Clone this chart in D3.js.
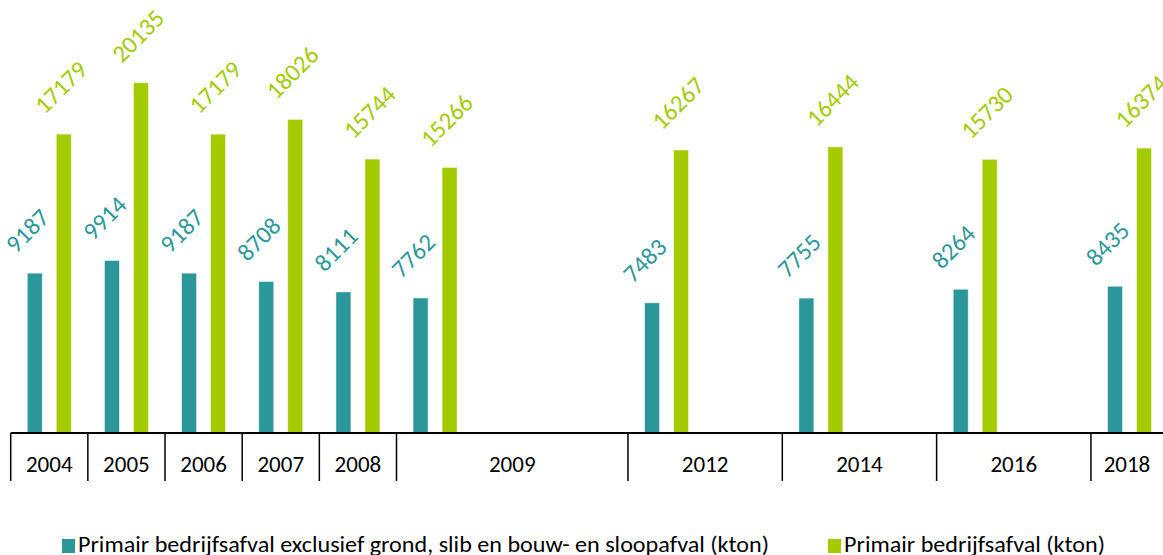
<!DOCTYPE html>
<meta charset="UTF-8">
<head>
<title>Primair bedrijfsafval</title>
<style>
body { margin: 0; background: #fff; }
svg { display: block; }
text { font-family: Carlito, Calibri, Lato, sans-serif; }
.lbl { font-size: 24.5px; }
.tick text { font-size: 23px; fill: #000; }
.legend text { font-size: 23px; fill: #000; }
</style>
</head>
<body>
<script src="https://cdn.jsdelivr.net/npm/d3@7"></script>
<script>

// data
var years = [2004, 2005, 2006, 2007, 2008, 2009, 2012, 2014, 2016, 2018];
var exclusief = [9187, 9914, 9187, 8708, 8111, 7762, 7483, 7755, 8264, 8435];
var totaal = [17179, 20135, 17179, 18026, 15744, 15266, 16267, 16444, 15730, 16374];
var seriesNames = ["Primair bedrijfsafval exclusief grond, slib en bouw- en sloopafval (kton)",
                   "Primair bedrijfsafval (kton)"];
var colors = ["#2c979a", "#a3cb00"];

var width = 1163, height = 555;
var baseY = 433;

var svg = d3.select("body").append("svg")
    .attr("width", width)
    .attr("height", height);

// one slot per year on a time-like axis
var allYears = d3.range(years[0], years[years.length - 1] + 1);
var x = d3.scaleBand()
    .domain(allYears)
    .range([10.7, 10.7 + allYears.length * 77.16])
    .padding(0);

var x1 = d3.scaleBand()
    .domain([0, 1])
    .range([0, x.step()])
    .paddingInner(0.483)
    .paddingOuter(0.572);

var y = d3.scaleLinear()
    .domain([0, 25000])
    .range([baseY, baseY - 25000 * 0.017398]);

var rows = years.map(function(yr, i) {
  return {year: yr, values: [exclusief[i], totaal[i]]};
});

var groups = svg.selectAll("g.year")
    .data(rows)
  .enter().append("g")
    .attr("class", "year")
    .attr("transform", function(d) { return "translate(" + x(d.year) + ",0)"; });

groups.selectAll("rect")
    .data(function(d) { return d.values.map(function(v, k) { return {k: k, v: v}; }); })
  .enter().append("rect")
    .attr("x", function(d) { return x1(d.k); })
    .attr("y", function(d) { return y(d.v); })
    .attr("width", x1.bandwidth())
    .attr("height", function(d) { return baseY - y(d.v); })
    .attr("fill", function(d) { return colors[d.k]; })
    .attr("stroke", "#ffffff")
    .attr("stroke-opacity", 0.6)
    .attr("stroke-width", 0.8);

// rotated value labels
groups.selectAll("text.lbl")
    .data(function(d) { return d.values.map(function(v, k) { return {k: k, v: v}; }); })
  .enter().append("text")
    .attr("class", "lbl")
    .attr("fill", function(d) { return colors[d.k]; })
    .attr("transform", function(d) {
      var cx = x1(d.k) + x1.bandwidth() / 2 - 19;
      var cy = y(d.v) - 19;
      return "translate(" + cx + "," + cy + ") rotate(-45)";
    })
    .text(function(d) { return d.v; });

// boxed category axis
var axis = svg.append("g").attr("class", "tick");
var spans = years.map(function(yr, i) {
  var end = i < years.length - 1 ? x(years[i + 1]) : x.range()[1];
  return {year: yr, x0: x(yr), x1: Math.min(end, width)};
});

axis.append("line")
    .attr("x1", x.range()[0]).attr("x2", width)
    .attr("y1", baseY).attr("y2", baseY)
    .attr("stroke", "#000").attr("stroke-width", 2);

axis.selectAll("line.div")
    .data(spans.map(function(s) { return s.x0; }).concat([x.range()[1]]))
  .enter().append("line")
    .attr("class", "div")
    .attr("x1", function(d) { return d; }).attr("x2", function(d) { return d; })
    .attr("y1", baseY).attr("y2", 481)
    .attr("stroke", "#000").attr("stroke-width", 1.5);

axis.selectAll("text")
    .data(spans)
  .enter().append("text")
    .attr("x", function(d) { return (d.x0 + d.x1) / 2; })
    .attr("y", 472)
    .attr("text-anchor", "middle")
    .text(function(d) { return d.year; });

// legend
var legend = svg.append("g").attr("class", "legend");
var legX = [62, 828], legW = [691, 261];
seriesNames.forEach(function(name, k) {
  legend.append("rect")
      .attr("x", legX[k]).attr("y", 539)
      .attr("width", 13).attr("height", 14)
      .attr("fill", colors[k]);
  legend.append("text")
      .attr("x", legX[k] + 16).attr("y", 552)
      .attr("textLength", legW[k])
      .attr("lengthAdjust", "spacingAndGlyphs")
      .text(name);
});

</script>
</body>
</html>
